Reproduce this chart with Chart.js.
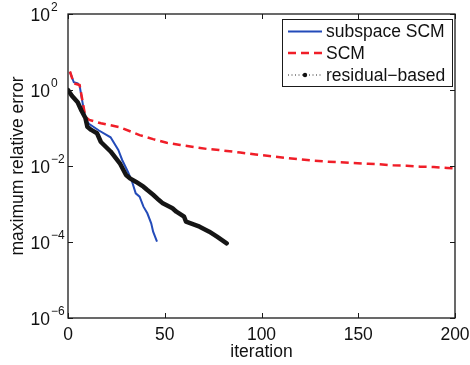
<!DOCTYPE html>
<html><head><meta charset="utf-8">
<script src="https://cdn.jsdelivr.net/npm/chart.js@4/dist/chart.umd.min.js"></script>
<style>html,body{margin:0;padding:0;background:#fff;}#wrap{width:470px;height:365px;position:relative}</style>
</head><body><div id="wrap"><canvas id="c" width="470" height="365"></canvas></div>
<script>
const seriesNames = ['subspace SCM', 'SCM', 'residual\u2212based'];

const subspaceIter = [1, 3, 5, 6, 9, 11, 16, 22, 26, 28, 31, 33, 35, 37, 39, 41, 43, 44, 46];
const subspaceErr  = [3.0, 1.6, 1.5, 1.3, 0.17, 0.127, 0.086, 0.057, 0.0264, 0.0144, 0.00695, 0.00403, 0.00191, 0.00156, 0.00085, 0.00057, 0.00031, 0.000187, 0.000102];

const scmIter = [1, 3, 6, 9, 11, 17, 27, 37, 44, 51, 58, 65, 72, 78, 89, 97, 104, 113, 120, 127, 134, 141, 147, 155, 161, 168, 175, 182, 189, 196, 200];
const scmErr  = [3.07, 1.5, 1.36, 0.195, 0.163, 0.133, 0.104, 0.065, 0.051, 0.041, 0.0357, 0.0316, 0.028, 0.0264, 0.0226, 0.020, 0.0183, 0.0163, 0.015, 0.0138, 0.013, 0.0125, 0.012, 0.0115, 0.0111, 0.0104, 0.0102, 0.0096, 0.0094, 0.0089, 0.0086];

const residualIter = [0, 2, 5, 7, 9, 10, 12, 15, 17, 22, 27, 30, 32, 35, 39, 41, 44, 47, 49, 54, 56, 60, 61, 68, 73, 77, 82];
const residualErr  = [1.0, 0.71, 0.475, 0.285, 0.183, 0.108, 0.089, 0.0726, 0.0428, 0.0241, 0.0113, 0.0058, 0.00474, 0.00386, 0.00285, 0.00233, 0.00175, 0.00127, 0.00104, 0.00077, 0.000627, 0.000463, 0.000342, 0.000253, 0.000187, 0.000138, 0.0000925];

const xTicks = [0, 50, 100, 150, 200];
const yTickValues = [1e-6, 1e-4, 1e-2, 1, 1e2];
const yTickExponents = ['\u22126', '\u22124', '\u22122', '0', '2'];
const xLabel = 'iteration';
const yLabel = 'maximum relative error';

const FONT = '"Liberation Sans", Arial, Helvetica, sans-serif';
const toPts = (xs, ys) => xs.map((x, i) => ({x: x, y: ys[i]}));

const matlabPlugin = {
  id: 'matlab',
  afterDraw(chart) {
    const ctx = chart.ctx;
    const xs = chart.scales.x, ys = chart.scales.y;
    const a = chart.chartArea;
    ctx.save();
    ctx.strokeStyle = '#1a1a1a';
    ctx.lineWidth = 1.3;
    ctx.strokeRect(a.left, a.top, a.right - a.left, a.bottom - a.top);
    ctx.lineWidth = 1;
    ctx.beginPath();
    xTicks.forEach(v => {
      const px = Math.round(xs.getPixelForValue(v)) + 0.5;
      ctx.moveTo(px, a.bottom); ctx.lineTo(px, a.bottom - 5);
      ctx.moveTo(px, a.top); ctx.lineTo(px, a.top + 5);
    });
    yTickValues.forEach(v => {
      const py = Math.round(ys.getPixelForValue(v)) + 0.5;
      ctx.moveTo(a.left, py); ctx.lineTo(a.left + 5, py);
      ctx.moveTo(a.right, py); ctx.lineTo(a.right - 5, py);
    });
    ctx.stroke();

    ctx.fillStyle = '#111';
    ctx.font = '17.5px ' + FONT;
    ctx.textAlign = 'center';
    ctx.textBaseline = 'alphabetic';
    xTicks.forEach(v => {
      ctx.fillText(String(v), xs.getPixelForValue(v), a.bottom + 22);
    });
    yTickValues.forEach((v, i) => {
      const py = ys.getPixelForValue(v);
      ctx.font = '17.5px ' + FONT;
      ctx.textAlign = 'right';
      ctx.fillText('10', a.left - 18, py + 7);
      ctx.font = '12px ' + FONT;
      ctx.textAlign = 'left';
      ctx.fillText(yTickExponents[i], a.left - 17, py - 3);
    });
    ctx.font = '17.5px ' + FONT;
    ctx.textAlign = 'center';
    ctx.fillText(xLabel, (a.left + a.right) / 2, a.bottom + 39);
    ctx.save();
    ctx.translate(23, (a.top + a.bottom) / 2);
    ctx.rotate(-Math.PI / 2);
    ctx.fillText(yLabel, 0, 0);
    ctx.restore();

    // legend
    const lx = 282, ly = 19, lw = 170, lh = 67;
    ctx.fillStyle = '#fff';
    ctx.fillRect(lx, ly, lw, lh);
    ctx.strokeStyle = '#1a1a1a';
    ctx.lineWidth = 1;
    ctx.strokeRect(lx + 0.5, ly + 0.5, lw, lh);
    const rows = [31.5, 53, 75];
    const ds = chart.data.datasets;
    rows.forEach((ry, i) => {
      const d = ds[i];
      ctx.save();
      if (i === 2) {
        ctx.strokeStyle = '#222';
        ctx.lineWidth = 1;
        ctx.setLineDash([1, 2.5]);
        ctx.beginPath(); ctx.moveTo(288, ry); ctx.lineTo(322, ry); ctx.stroke();
        ctx.setLineDash([]);
        ctx.fillStyle = '#111';
        ctx.beginPath(); ctx.arc(305, ry, 2.2, 0, Math.PI * 2); ctx.fill();
      } else {
        ctx.strokeStyle = d.borderColor;
        ctx.lineWidth = d.borderWidth;
        ctx.setLineDash(d.borderDash || []);
        ctx.beginPath(); ctx.moveTo(288, ry); ctx.lineTo(322, ry); ctx.stroke();
      }
      ctx.restore();
      ctx.fillStyle = '#111';
      ctx.font = '17.5px ' + FONT;
      ctx.textAlign = 'left';
      ctx.textBaseline = 'middle';
      ctx.fillText(seriesNames[i], 326, ry + 1);
    });
    ctx.restore();
  }
};

new Chart(document.getElementById('c'), {
  type: 'line',
  data: {
    datasets: [
      { label: seriesNames[0], data: toPts(subspaceIter, subspaceErr), borderColor: 'rgb(35,75,185)', borderWidth: 2, pointRadius: 0, tension: 0, fill: false, order: 2 },
      { label: seriesNames[1], data: toPts(scmIter, scmErr), borderColor: 'rgb(240,30,40)', borderWidth: 2.5, borderDash: [8, 5], pointRadius: 0, tension: 0, fill: false, order: 1 },
      { label: seriesNames[2], data: toPts(residualIter, residualErr), borderColor: '#151515', borderWidth: 4.5, pointRadius: 0, tension: 0, fill: false, order: 0, borderCapStyle: 'round', borderJoinStyle: 'round' }
    ]
  },
  options: {
    responsive: false,
    animation: false,
    devicePixelRatio: 1,
    layout: { padding: { left: 68, top: 14, right: 15, bottom: 47 } },
    scales: {
      x: { type: 'linear', min: 0, max: 200, display: false },
      y: { type: 'logarithmic', min: 1e-6, max: 1e2, display: false }
    },
    plugins: { legend: { display: false }, tooltip: { enabled: false } }
  },
  plugins: [matlabPlugin]
});
</script>
</body></html>
